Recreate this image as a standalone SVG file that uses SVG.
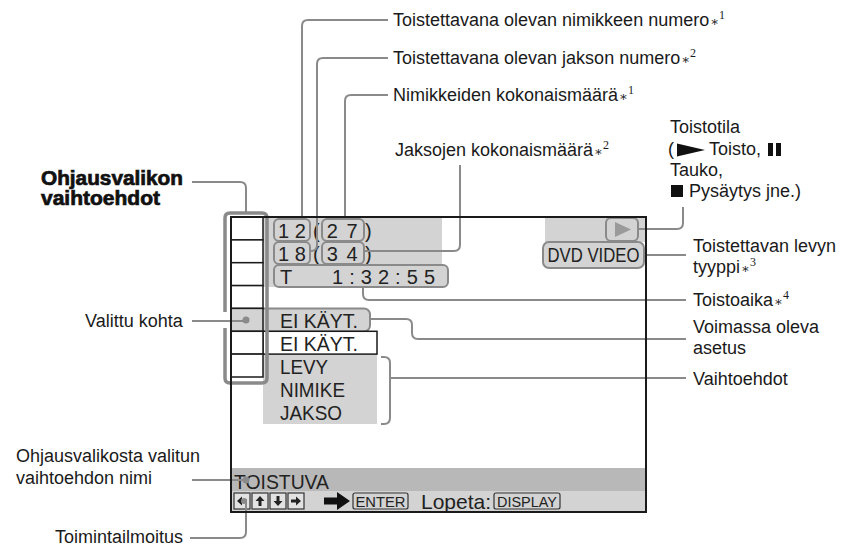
<svg xmlns="http://www.w3.org/2000/svg" width="843" height="552" viewBox="0 0 843 552">
<defs>
<style>
.lbl{font-family:"Liberation Sans",Arial,sans-serif;font-size:18px;fill:#1a1a1a}
.bold{font-family:"Liberation Sans",Arial,sans-serif;font-weight:bold;font-size:20px;fill:#111;stroke:#111;stroke-width:.7}
.ast{font-family:"DejaVu Serif","Liberation Serif",serif;font-size:13px}
.sup{font-family:"Liberation Serif",serif;font-size:12px}
.scr{font-family:"Liberation Sans",Arial,sans-serif;font-size:21px;fill:#222}
.num{font-family:"Liberation Sans",Arial,sans-serif;font-size:20px;fill:#222}
.key{font-family:"Liberation Sans",Arial,sans-serif;font-size:14px;fill:#222}
.conn{fill:none;stroke:#8a8a8a;stroke-width:2}
.gbox{fill:#d3d3d3;stroke:#8a8a8a;stroke-width:2}
.cell{fill:#fff;stroke:#1a1a1a;stroke-width:1.5}
.sq{fill:#e2e2e2;stroke:#333;stroke-width:1.2}
.dot{fill:#8a8a8a}
</style>
<path id="arr" d="M-5,0 L0,-4.5 V-1.5 H5 V1.5 H0 V4.5 Z" fill="#222"/>
</defs>
<rect width="843" height="552" fill="#fff"/>

<g id="screen-bg">
<rect x="263" y="218" width="179" height="69" fill="#d3d3d3"/>
<rect x="545" y="218" width="100" height="24" fill="#d3d3d3"/>
<rect x="263" y="354" width="114" height="70" fill="#d3d3d3"/>
<rect x="232" y="468" width="413" height="23" fill="#b8b8b8"/>
<rect x="232" y="491" width="413" height="20" fill="#d3d3d3"/>
</g>

<g id="title-number">
<rect class="gbox" x="274" y="219" width="36" height="22" rx="5"/>
<text class="num" x="292" y="238" text-anchor="middle">1 2</text>
</g>
<g id="chapter-number">
<rect class="gbox" x="274" y="242" width="36" height="22" rx="5"/>
<text class="num" x="292" y="261" text-anchor="middle">1 8</text>
</g>
<g id="title-total">
<text class="num" x="313" y="238">(</text>
<rect class="gbox" x="322" y="219" width="42" height="22" rx="5"/>
<text class="num" x="343" y="238" text-anchor="middle" letter-spacing="1.5">2 7</text>
<text class="num" x="365" y="238">)</text>
</g>
<g id="chapter-total">
<text class="num" x="313" y="261">(</text>
<rect class="gbox" x="322" y="242" width="42" height="22" rx="5"/>
<text class="num" x="343" y="261" text-anchor="middle" letter-spacing="1.5">3 4</text>
<text class="num" x="365" y="261">)</text>
</g>
<g id="play-time">
<rect class="gbox" x="274" y="265" width="174" height="22" rx="5"/>
<text class="num" x="280" y="284">T</text>
<text class="num" x="332" y="284" textLength="103" lengthAdjust="spacing">1 : 3 2 : 5 5</text>
</g>
<g id="play-status">
<rect class="gbox" x="606" y="218" width="32" height="23" rx="5"/>
<polygon points="615,222 631,229.5 615,237" fill="#9a9a9a"/>
</g>
<g id="disc-type">
<rect class="gbox" x="543" y="242" width="101" height="26" rx="6"/>
<text class="scr" x="593.5" y="262" text-anchor="middle" textLength="92" lengthAdjust="spacingAndGlyphs">DVD VIDEO</text>
</g>
<g id="current-setting">
<rect class="gbox" x="258" y="308.5" width="112" height="23" rx="6"/>
<text class="scr" x="280" y="328" textLength="78" lengthAdjust="spacingAndGlyphs">EI KÄYT.</text>
</g>
<g id="options">
<rect x="263" y="331.3" width="114" height="22.8" fill="#fff" stroke="#1a1a1a" stroke-width="1.5"/>
<text class="scr" x="280" y="351" textLength="78" lengthAdjust="spacingAndGlyphs">EI KÄYT.</text>
<text class="scr" x="280" y="374" textLength="48" lengthAdjust="spacingAndGlyphs">LEVY</text>
<text class="scr" x="280" y="397" textLength="65" lengthAdjust="spacingAndGlyphs">NIMIKE</text>
<text class="scr" x="280" y="420" textLength="62" lengthAdjust="spacingAndGlyphs">JAKSO</text>
</g>
<g id="menu-items">
<rect class="cell" x="231" y="217" width="32" height="22.9"/>
<rect class="cell" x="231" y="239.9" width="32" height="22.8"/>
<rect class="cell" x="231" y="262.7" width="32" height="22.9"/>
<rect class="cell" x="231" y="285.6" width="32" height="22.8"/>
<rect x="231" y="308.4" width="32" height="22.9" fill="#d3d3d3" stroke="#1a1a1a" stroke-width="1.5"/>
<rect class="cell" x="231" y="331.3" width="32" height="22.8"/>
<rect class="cell" x="231" y="354.1" width="32" height="22.9"/>
<path d="M225,328 V378 Q225,383 230,383 H262 Q267,383 267,378 V218 Q267,213 262,213 H230 Q225,213 225,218 V312" fill="none" stroke="#8a8a8a" stroke-width="3.5"/>
</g>
<g id="selected-name">
<text class="scr" x="234" y="489" textLength="95" lengthAdjust="spacingAndGlyphs">TOISTUVA</text>
</g>
<g id="operation-message">
<rect class="sq" x="234" y="493" width="16" height="16"/>
<rect class="sq" x="252" y="493" width="16" height="16"/>
<rect class="sq" x="270" y="493" width="16" height="16"/>
<rect class="sq" x="288" y="493" width="16" height="16"/>
<use href="#arr" transform="translate(242,501)"/>
<use href="#arr" transform="translate(260,501) rotate(90)"/>
<use href="#arr" transform="translate(278,501) rotate(-90)"/>
<use href="#arr" transform="translate(296,501) rotate(180)"/>
<path d="M324,497.5 H337 V492 L350,501 L337,510 V504.5 H324 Z" fill="#111"/>
<rect x="353" y="493" width="55" height="16" rx="2" fill="none" stroke="#333" stroke-width="1.2"/>
<text class="key" x="380.5" y="507" text-anchor="middle" textLength="50" lengthAdjust="spacingAndGlyphs">ENTER</text>
<text class="scr" x="421" y="509" font-size="20">Lopeta:</text>
<rect x="494" y="493" width="66" height="16" rx="2" fill="none" stroke="#333" stroke-width="1.2"/>
<text class="key" x="527" y="507" text-anchor="middle" textLength="60" lengthAdjust="spacingAndGlyphs">DISPLAY</text>
</g>

<g id="connectors">
<path class="conn" d="M388,20 H308 Q302,20 302,26 V219"/>
<path class="conn" d="M388,58 H323 Q317,58 317,64 V245 Q317,251 311,251 H310"/>
<path class="conn" d="M388,95 H351 Q345,95 345,101 V219"/>
<path class="conn" d="M460,165 V245 Q460,251 454,251 H364"/>
<path class="conn" d="M683,207 V223 Q683,229 677,229 H638"/>
<path class="conn" d="M644,255 H686"/>
<path class="conn" d="M363,287 V294 Q363,300 369,300 H686"/>
<path class="conn" d="M370,319 H406 Q412,319 412,325 V333 Q412,339 418,339 H686"/>
<path class="conn" d="M381,357 H384 Q390,357 390,363 V418 Q390,424 384,424 H381 M390,378 H686"/>
<path class="conn" d="M192,182 H240 Q246,182 246,188 V213"/>
<path class="conn" d="M192,321 H246"/>
<circle class="dot" cx="246" cy="320" r="3.5"/>
<path class="conn" d="M192,480 H246"/>
<circle class="dot" cx="246" cy="480" r="3.5"/>
<path class="conn" d="M190,538 H240 Q246,538 246,532 V502"/>
<circle class="dot" cx="244" cy="501" r="3"/>
</g>

<g id="frame">
<rect x="231" y="217" width="415" height="295" fill="none" stroke="#1a1a1a" stroke-width="2"/>
</g>

<g id="label-title-number"><text class="lbl" x="393" y="26">Toistettavana olevan nimikkeen numero<tspan class="ast" dx="1">∗</tspan><tspan class="sup" dy="-7">1</tspan></text></g>
<g id="label-chapter-number"><text class="lbl" x="393" y="64">Toistettavana olevan jakson numero<tspan class="ast" dx="1">∗</tspan><tspan class="sup" dy="-7">2</tspan></text></g>
<g id="label-title-total"><text class="lbl" x="393" y="101">Nimikkeiden kokonaismäärä<tspan class="ast" dx="1">∗</tspan><tspan class="sup" dy="-7">1</tspan></text></g>
<g id="label-chapter-total"><text class="lbl" x="395" y="156">Jaksojen kokonaismäärä<tspan class="ast" dx="1">∗</tspan><tspan class="sup" dy="-7">2</tspan></text></g>
<g id="label-play-status">
<text class="lbl" x="670" y="133">Toistotila</text>
<text class="lbl" x="668" y="155">(</text>
<polygon points="677,143.5 705,150 677,156.5" fill="#111"/>
<text class="lbl" x="709" y="155">Toisto,</text>
<rect x="768" y="143" width="5" height="13" fill="#111"/>
<rect x="776" y="143" width="5" height="13" fill="#111"/>
<text class="lbl" x="670" y="176">Tauko,</text>
<rect x="671" y="185" width="12" height="12" fill="#111"/>
<text class="lbl" x="689" y="197">Pysäytys jne.)</text>
</g>
<g id="label-disc-type"><text class="lbl" x="693" y="252">Toistettavan levyn</text><text class="lbl" x="693" y="273">tyyppi<tspan class="ast" dx="1">∗</tspan><tspan class="sup" dy="-7">3</tspan></text></g>
<g id="label-play-time"><text class="lbl" x="693" y="306">Toistoaika<tspan class="ast" dx="1">∗</tspan><tspan class="sup" dy="-7">4</tspan></text></g>
<g id="label-current-setting"><text class="lbl" x="693" y="333">Voimassa oleva</text><text class="lbl" x="693" y="354">asetus</text></g>
<g id="label-options"><text class="lbl" x="693" y="385">Vaihtoehdot</text></g>
<g id="label-menu-items"><text class="bold" x="41" y="185" textLength="142" lengthAdjust="spacingAndGlyphs">Ohjausvalikon</text><text class="bold" x="41" y="205" textLength="119" lengthAdjust="spacingAndGlyphs">vaihtoehdot</text></g>
<g id="label-selected"><text class="lbl" x="85" y="327">Valittu kohta</text></g>
<g id="label-selected-name"><text class="lbl" x="16" y="462">Ohjausvalikosta valitun</text><text class="lbl" x="16" y="484">vaihtoehdon nimi</text></g>
<g id="label-operation"><text class="lbl" x="55" y="543">Toimintailmoitus</text></g>
</svg>
